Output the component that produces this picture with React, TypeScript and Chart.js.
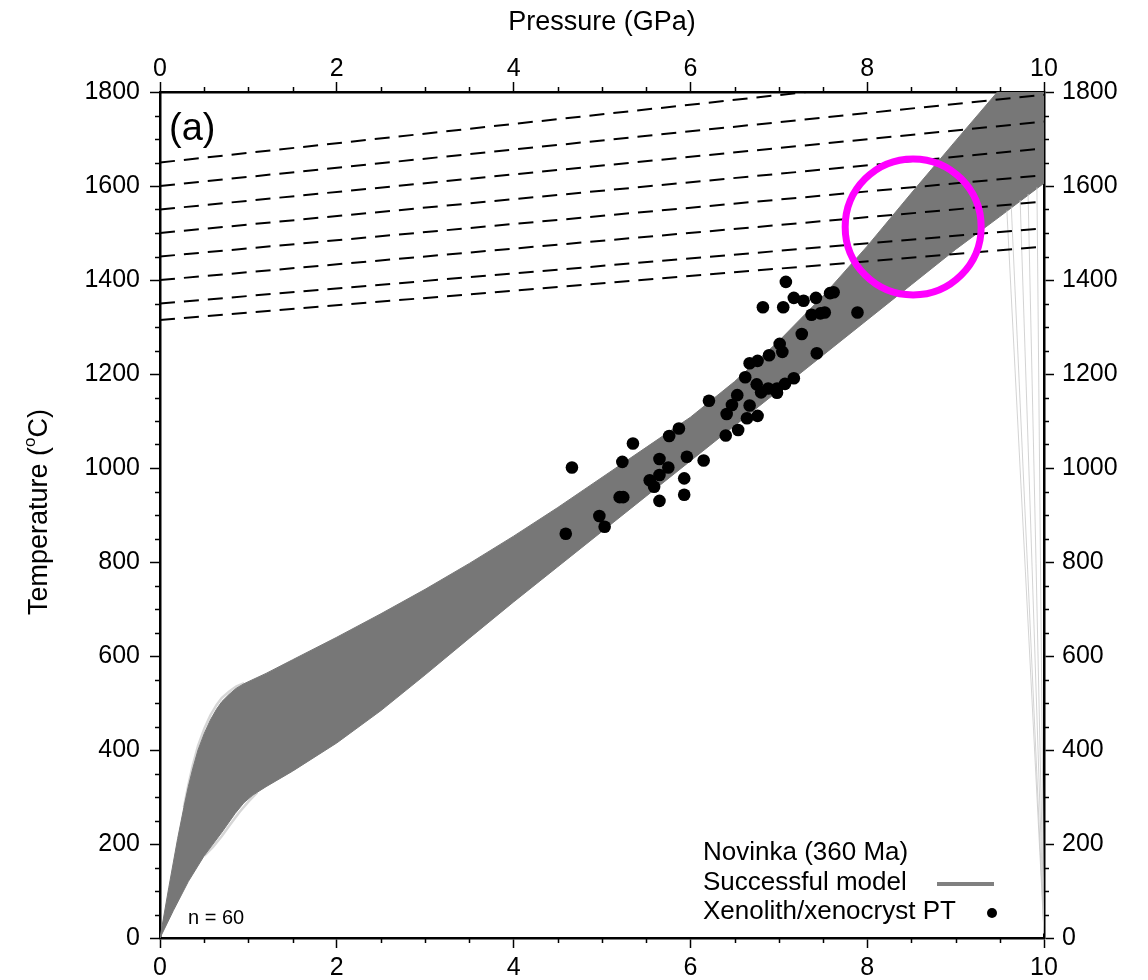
import React, { useEffect, useRef } from "react";
import { Chart, registerables } from "chart.js";

Chart.register(...registerables);

const FONT = "'Liberation Sans', Arial, Helvetica, sans-serif";

// Axis ticks
const xTickValues = [0, 2, 4, 6, 8, 10];
const yTickValues = [0, 200, 400, 600, 800, 1000, 1200, 1400, 1600, 1800];
const xMinorStep = 0.5;
const yMinorStep = 50;

// Successful-model envelope (upper and lower edges of grey band)
const upperP = [0, 0.1, 0.2, 0.27, 0.32, 0.37, 0.43, 0.5, 0.57, 0.64, 0.7, 0.78, 0.86, 0.95, 1.04, 1.2, 1.5, 2.0, 2.5, 3.0, 3.5, 4.0, 4.5, 5.0, 5.5, 6.0, 6.5, 7.0, 7.5, 8.0, 8.5, 9.0, 9.5, 10];
const upperT = [0, 108, 212, 278, 322, 360, 400, 435, 464, 487, 503, 518, 531, 541, 549, 563, 592, 640, 690, 742, 797, 855, 916, 980, 1044, 1108, 1184, 1270, 1366, 1472, 1585, 1696, 1806, 1916];
const lowerP = [0, 0.15, 0.32, 0.5, 0.7, 0.85, 0.95, 1.05, 1.2, 1.5, 2.0, 2.5, 3.0, 3.5, 4.0, 4.5, 5.0, 5.5, 6.0, 6.5, 7.0, 7.5, 8.0, 8.5, 9.0, 9.5, 10];
const lowerT = [0, 58, 120, 175, 225, 265, 288, 304, 322, 355, 415, 484, 560, 638, 715, 790, 865, 940, 1015, 1090, 1165, 1240, 1315, 1390, 1465, 1535, 1606];

// Faint fringe of individual models around the knee
const fringeUpperP = [0.27, 0.32, 0.37, 0.43, 0.5, 0.57, 0.64, 0.7, 0.78, 0.86, 0.95];
const fringeUpperT = [278, 325, 367, 409, 445, 474, 496, 511, 524, 535, 542];
const fringeLowerP = [0.5, 0.6, 0.7, 0.8, 0.9, 1.0, 1.1];
const fringeLowerT = [175, 194, 217, 243, 268, 290, 310];

// Adiabats (dashed): temperature at P = 0 and at P = 10 GPa
const adiabatT0 = [1315, 1350, 1400, 1450, 1500, 1550, 1600, 1650];
const adiabatT10 = [1471, 1510, 1567, 1623, 1680, 1737, 1794, 1855];

// Faint stray model lines near the right edge
const faintTopP = [9.58, 9.63, 9.73, 9.82, 9.92];
const faintTopT = [1548, 1556, 1570, 1583, 1597];
const faintBottomP = [10, 10, 10, 10, 10];
const faintBottomT = [10, 10, 10, 10, 10];

// Xenolith / xenocryst PT
const dotP = [7.08, 6.82, 7.05, 7.17, 7.28, 7.42, 7.58, 7.62, 7.89, 7.37, 7.47, 7.52, 7.26, 7.43, 7.01, 7.04, 6.89, 6.67, 6.76, 6.62, 6.75, 6.8, 6.88, 6.98, 6.98, 7.07, 7.17, 6.21, 6.53, 6.47, 6.41, 6.67, 6.64, 6.76, 6.54, 6.4, 5.87, 5.76, 5.35, 4.66, 5.23, 5.65, 5.96, 6.15, 5.75, 5.65, 5.54, 5.59, 5.93, 5.93, 5.65, 5.2, 5.24, 4.97, 5.03, 4.59];
const dotT = [1396, 1342, 1342, 1362, 1356, 1362, 1372, 1374, 1331, 1326, 1329, 1331, 1285, 1244, 1264, 1247, 1240, 1223, 1228, 1193, 1178, 1161, 1169, 1169, 1160, 1179, 1191, 1143, 1155, 1134, 1115, 1133, 1106, 1111, 1081, 1069, 1084, 1068, 1052, 1001, 1013, 1019, 1024, 1016, 1001, 985, 974, 960, 978, 943, 930, 938, 938, 898, 875, 860];

// Highlight circle
const circleP = [8.52];
const circleT = [1513];

const legendLines = ["Novinka (360 Ma)", "Successful model", "Xenolith/xenocryst PT"];

const decorPlugin = {
  id: "decor",
  afterDraw(chart: any) {
    const { ctx, chartArea: ca, scales } = chart;
    const xs = scales.x;
    const ys = scales.y;
    ctx.save();
    // minor ticks
    ctx.strokeStyle = "#000";
    ctx.lineWidth = 1.5;
    ctx.beginPath();
    for (let v = 0; v <= 10 + 1e-9; v += xMinorStep) {
      if (xTickValues.includes(Math.round(v * 10) / 10)) continue;
      const px = Math.round(xs.getPixelForValue(v)) + 0.5;
      ctx.moveTo(px, ca.top);
      ctx.lineTo(px, ca.top - 5);
      ctx.moveTo(px, ca.bottom);
      ctx.lineTo(px, ca.bottom + 5);
    }
    for (let v = 0; v <= 1800; v += yMinorStep) {
      if (yTickValues.includes(v)) continue;
      const py = Math.round(ys.getPixelForValue(v)) + 0.5;
      ctx.moveTo(ca.left, py);
      ctx.lineTo(ca.left - 5, py);
      ctx.moveTo(ca.right, py);
      ctx.lineTo(ca.right + 5, py);
    }
    ctx.stroke();

    ctx.fillStyle = "#000";
    // (a)
    ctx.font = `38px ${FONT}`;
    ctx.textAlign = "left";
    ctx.textBaseline = "middle";
    ctx.fillText("(a)", ca.left + 9, ca.top + 38);
    // n = 60
    ctx.font = `20px ${FONT}`;
    ctx.fillText("n = 60", ca.left + 28, ca.bottom - 20);

    // legend
    ctx.font = `26px ${FONT}`;
    const lx = 703;
    const ly = [853, 883, 912];
    legendLines.forEach((t, i) => ctx.fillText(t, lx, ly[i]));
    ctx.strokeStyle = "#808080";
    ctx.lineWidth = 4;
    ctx.beginPath();
    ctx.moveTo(937, ly[1] + 1);
    ctx.lineTo(994, ly[1] + 1);
    ctx.stroke();
    ctx.beginPath();
    ctx.arc(992, ly[2] + 1, 5, 0, Math.PI * 2);
    ctx.fill();

    // y-axis title with superscript o
    ctx.save();
    ctx.translate(40, (ca.top + ca.bottom) / 2 - 3);
    ctx.rotate(-Math.PI / 2);
    ctx.textBaseline = "middle";
    ctx.textAlign = "left";
    const p1 = "Temperature (";
    const p2 = "o";
    const p3 = "C)";
    ctx.font = `27px ${FONT}`;
    const w1 = ctx.measureText(p1).width;
    const w3 = ctx.measureText(p3).width;
    ctx.font = `17px ${FONT}`;
    const w2 = ctx.measureText(p2).width;
    const total = w1 + w2 + w3;
    let cx = -total / 2;
    ctx.font = `27px ${FONT}`;
    ctx.fillText(p1, cx, 0);
    cx += w1;
    ctx.font = `17px ${FONT}`;
    ctx.fillText(p2, cx, -10);
    cx += w2;
    ctx.font = `27px ${FONT}`;
    ctx.fillText(p3, cx, 0);
    ctx.restore();

    ctx.restore();
  },
};

export default function App() {
  const ref = useRef<HTMLCanvasElement | null>(null);

  useEffect(() => {
    if (!ref.current) return;
    const band = [
      ...upperP.map((p, i) => ({ x: p, y: upperT[i] })),
      ...lowerP.map((p, i) => ({ x: p, y: lowerT[i] })).reverse(),
    ];
    const dots = dotP.map((p, i) => ({ x: p, y: dotT[i] }));
    const adiabats = adiabatT0.map((t0, i) => ({
      type: "line",
      data: [
        { x: 0, y: t0 },
        { x: 10, y: adiabatT10[i] },
      ],
      borderColor: "#000",
      borderWidth: 2,
      borderDash: [15, 9],
      pointRadius: 0,
      fill: false,
      order: 2,
      clip: 0,
    }));
    const faint = faintTopP.map((p, i) => ({
      type: "line",
      data: [
        { x: p, y: faintTopT[i] },
        { x: faintBottomP[i], y: faintBottomT[i] },
      ],
      borderColor: "rgba(200,200,200,0.8)",
      borderWidth: 1,
      pointRadius: 0,
      fill: false,
      order: 3,
      clip: 0,
    }));
    const fringe = [
      { p: fringeUpperP, t: fringeUpperT },
      { p: fringeLowerP, t: fringeLowerT },
    ].map((f) => ({
      type: "line",
      data: f.p.map((p, i) => ({ x: p, y: f.t[i] })),
      borderColor: "rgba(165,165,165,0.45)",
      borderWidth: 2.5,
      pointRadius: 0,
      fill: false,
      tension: 0,
      order: 5,
      clip: 0,
    }));

    const tickFont = { family: FONT, size: 25 };
    const fmt = (v: any) => String(v);
    const gridOpts = {
      display: true,
      drawOnChartArea: false,
      drawTicks: true,
      tickLength: 10,
      tickColor: "#000",
      tickWidth: 1.5,
    };
    const border = { display: true, color: "#000", width: 2.5 };

    const chart = new Chart(ref.current, {
      type: "line",
      data: {
        datasets: [
          {
            data: circleP.map((p, i) => ({ x: p, y: circleT[i] })),
            showLine: false,
            pointRadius: 68,
            pointBorderWidth: 7,
            pointBorderColor: "#ff00ff",
            pointBackgroundColor: "rgba(0,0,0,0)",
            order: 0,
            clip: false,
          },
          {
            data: dots,
            showLine: false,
            pointRadius: 6.3,
            pointBorderWidth: 0,
            pointBackgroundColor: "#000",
            order: 1,
          },
          ...adiabats,
          ...faint,
          {
            data: band,
            showLine: true,
            fill: "shape",
            backgroundColor: "#777777",
            borderColor: "#777777",
            borderWidth: 1,
            pointRadius: 0,
            tension: 0,
            order: 4,
            clip: 0,
          },
          ...fringe,
        ] as any,
      },
      options: {
        animation: false,
        responsive: false,
        events: [],
        layout: { padding: 0, autoPadding: false },
        plugins: { legend: { display: false }, tooltip: { enabled: false }, title: { display: false } },
        scales: {
          x: {
            type: "linear",
            position: "bottom",
            min: 0,
            max: 10,
            afterBuildTicks: (s: any) => {
              s.ticks = xTickValues.map((v) => ({ value: v }));
            },
            afterFit: (s: any) => {
              s.height = 42;
            },
            ticks: { font: tickFont, color: "#000", padding: 5, maxRotation: 0, callback: fmt },
            grid: gridOpts,
            border,
          },
          x2: {
            type: "linear",
            position: "top",
            min: 0,
            max: 10,
            afterBuildTicks: (s: any) => {
              s.ticks = xTickValues.map((v) => ({ value: v }));
            },
            afterFit: (s: any) => {
              s.height = 92;
            },
            ticks: { font: tickFont, color: "#000", padding: -2, maxRotation: 0, callback: fmt },
            grid: gridOpts,
            border,
            title: {
              display: true,
              text: "Pressure (GPa)",
              color: "#000",
              font: { family: FONT, size: 27 },
              padding: { top: 6, bottom: 0 },
            },
          },
          y: {
            type: "linear",
            position: "left",
            min: 0,
            max: 1800,
            afterBuildTicks: (s: any) => {
              s.ticks = yTickValues.map((v) => ({ value: v }));
            },
            afterFit: (s: any) => {
              s.width = 160;
            },
            ticks: { font: tickFont, color: "#000", padding: 10, callback: fmt },
            grid: gridOpts,
            border,
          },
          y2: {
            type: "linear",
            position: "right",
            min: 0,
            max: 1800,
            afterBuildTicks: (s: any) => {
              s.ticks = yTickValues.map((v) => ({ value: v }));
            },
            afterFit: (s: any) => {
              s.width = 104;
            },
            ticks: { font: tickFont, color: "#000", padding: 8, callback: fmt },
            grid: gridOpts,
            border,
          },
        },
      } as any,
      plugins: [decorPlugin],
    });
    return () => chart.destroy();
  }, []);

  return (
    <div style={{ position: "absolute", left: 0, top: 0, width: 1148, height: 980, background: "#fff" }}>
      <canvas ref={ref} width={1148} height={980} style={{ display: "block", width: 1148, height: 980 }} />
    </div>
  );
}
